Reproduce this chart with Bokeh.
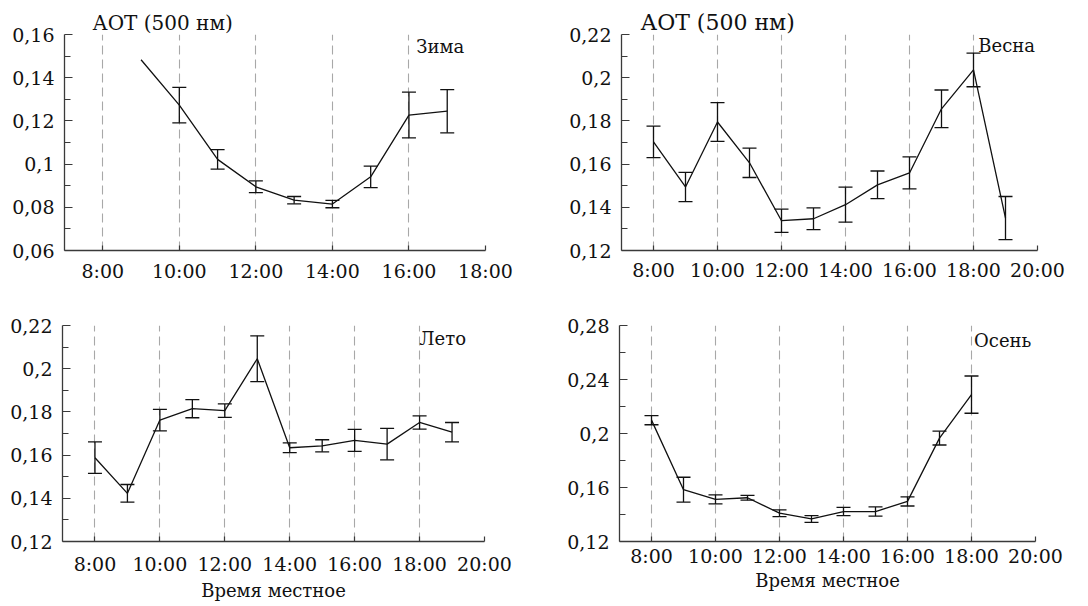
from bokeh.plotting import figure
from bokeh.models import (Range1d, FixedTicker, Whisker, TeeHead, ColumnDataSource,
                          Label, CustomJSTickFormatter)
from bokeh.layouts import row, column
from bokeh.embed import file_html
from bokeh.resources import INLINE

# ---------------- data ----------------
hours_winter = [9, 10, 11, 12, 13, 14, 15, 16, 17]
aot_winter = [0.1483, 0.1273, 0.1022, 0.0895, 0.0833, 0.0815, 0.0941, 0.1227, 0.1245]
err_winter = [None, 0.0082, 0.0045, 0.0027, 0.0017, 0.0017, 0.0050, 0.0106, 0.0100]

hours_spring = [8, 9, 10, 11, 12, 13, 14, 15, 16, 17, 18, 19]
aot_spring = [0.1703, 0.1494, 0.1795, 0.1606, 0.1338, 0.1347, 0.1412, 0.1504, 0.1559, 0.1856, 0.2036, 0.1350]
err_spring = [0.0073, 0.0068, 0.0090, 0.0068, 0.0054, 0.0050, 0.0081, 0.0064, 0.0074, 0.0087, 0.0078, 0.0100]

hours_summer = [8, 9, 10, 11, 12, 13, 14, 15, 16, 17, 18, 19]
aot_summer = [0.1588, 0.1423, 0.1762, 0.1815, 0.1806, 0.2046, 0.1634, 0.1643, 0.1668, 0.1651, 0.1751, 0.1706]
err_summer = [0.0073, 0.0041, 0.0050, 0.0042, 0.0031, 0.0106, 0.0023, 0.0028, 0.0051, 0.0073, 0.0031, 0.0045]

hours_autumn = [8, 9, 10, 11, 12, 13, 14, 15, 16, 17, 18]
aot_autumn = [0.2099, 0.1584, 0.1512, 0.1524, 0.1410, 0.1367, 0.1422, 0.1422, 0.1497, 0.1966, 0.2288]
err_autumn = [0.0034, 0.0092, 0.0034, 0.0018, 0.0025, 0.0025, 0.0031, 0.0034, 0.0034, 0.0051, 0.0138]

x_ticks_winter = [8, 10, 12, 14, 16, 18]
x_ticks_other = [8, 10, 12, 14, 16, 18, 20]
x_labels_all = {8: "8:00", 10: "10:00", 12: "12:00", 14: "14:00", 16: "16:00", 18: "18:00", 20: "20:00"}

y_ticks_winter = [0.06, 0.08, 0.10, 0.12, 0.14, 0.16]
y_labels_winter = ["0,06", "0,08", "0,1", "0,12", "0,14", "0,16"]
y_minor_winter = [0.07, 0.09, 0.11, 0.13, 0.15]

y_ticks_mid = [0.12, 0.14, 0.16, 0.18, 0.20, 0.22]
y_labels_mid = ["0,12", "0,14", "0,16", "0,18", "0,2", "0,22"]
y_minor_mid = [0.13, 0.15, 0.17, 0.19, 0.21]

y_ticks_autumn = [0.12, 0.16, 0.20, 0.24, 0.28]
y_labels_autumn = ["0,12", "0,16", "0,2", "0,24", "0,28"]
y_minor_autumn = [0.14, 0.18, 0.22, 0.26]

ylabel_text = "АОТ (500 нм)"
ylabel_text_spring = "АОТ  (500 нм)"
xlabel_text = "Время местное"

FONT = "DejaVu Serif"
AXIS_COLOR = "#3a3a3a"
TICK_SIZE = "19px"


def fmt(vals, labs):
    return CustomJSTickFormatter(args=dict(vals=vals, labs=labs), code="""
        let best = 0, d = Infinity;
        for (let i = 0; i < vals.length; i++) {
            const e = Math.abs(vals[i] - tick);
            if (e < d) { d = e; best = i; }
        }
        return labs[best];
    """)


def panel(hours, aot, err, xmax, xt, yr, yt, ylabs, ym, fw, fh, borders,
          season, season_pos, title=None, title_offset=0, title_size="20px",
          xlabel=None, x_standoff=9, xlabel_standoff=4):
    bl, br, bt, bb = borders
    p = figure(width=bl + fw + br, height=bt + fh + bb,
               x_range=Range1d(7, xmax), y_range=Range1d(*yr),
               output_backend="svg", toolbar_location=None,
               min_border_left=bl, min_border_right=br,
               min_border_top=bt, min_border_bottom=bb)
    p.outline_line_color = None
    p.background_fill_color = "white"
    p.border_fill_color = "white"

    if title:
        p.title.text = title
        p.title.text_font = FONT
        p.title.text_font_size = title_size
        p.title.text_font_style = "normal"
        p.title.text_color = "#111111"
        p.title.align = "left"
        p.title.offset = title_offset
        p.title.standoff = 0

    xticker = FixedTicker(ticks=xt, minor_ticks=[])
    p.xaxis.ticker = xticker
    p.xaxis.formatter = fmt([float(t) for t in xt], [x_labels_all[t] for t in xt])
    p.xaxis.major_tick_in = 5
    p.xaxis.major_tick_out = 0
    p.xaxis.major_label_standoff = x_standoff

    p.yaxis.ticker = FixedTicker(ticks=yt, minor_ticks=ym)
    p.yaxis.formatter = fmt(yt, ylabs)
    p.yaxis.major_tick_in = 8
    p.yaxis.major_tick_out = 0
    p.yaxis.minor_tick_in = 6
    p.yaxis.minor_tick_out = 0
    p.yaxis.major_label_standoff = 10

    for ax in (p.xaxis, p.yaxis):
        ax.axis_line_color = AXIS_COLOR
        ax.axis_line_width = 1.3
        ax.major_tick_line_color = AXIS_COLOR
        ax.major_tick_line_width = 1.2
        ax.minor_tick_line_color = AXIS_COLOR
        ax.minor_tick_line_width = 1.2
        ax.major_label_text_font = FONT
        ax.major_label_text_font_size = TICK_SIZE
        ax.major_label_text_color = "#111111"
    p.xaxis.minor_tick_line_color = None

    if xlabel:
        p.xaxis.axis_label = xlabel
        p.xaxis.axis_label_text_font = FONT
        p.xaxis.axis_label_text_font_size = "18px"
        p.xaxis.axis_label_text_font_style = "normal"
        p.xaxis.axis_label_text_color = "#111111"
        p.xaxis.axis_label_standoff = xlabel_standoff

    p.xgrid.ticker = xticker
    p.xgrid.grid_line_color = "#a8a8a8"
    p.xgrid.grid_line_dash = "9 5"
    p.xgrid.grid_line_width = 1.1
    p.ygrid.visible = False

    p.line(hours, aot, line_color="#111111", line_width=1.3)

    wh = [h for h, e in zip(hours, err) if e is not None]
    wv = [v for v, e in zip(aot, err) if e is not None]
    we = [e for e in err if e is not None]
    src = ColumnDataSource(dict(x=wh, upper=[v + e for v, e in zip(wv, we)],
                                lower=[v - e for v, e in zip(wv, we)]))
    p.add_layout(Whisker(base="x", upper="upper", lower="lower", source=src,
                         line_color="#111111", line_width=1.3,
                         upper_head=TeeHead(size=14, line_color="#111111", line_width=1.3),
                         lower_head=TeeHead(size=14, line_color="#111111", line_width=1.3)))

    p.add_layout(Label(x=season_pos[0], y=season_pos[1], text=season,
                       text_font=FONT, text_font_size="18px", text_color="#111111",
                       text_baseline="alphabetic", text_align="left"))
    return p


p1 = panel(hours_winter, aot_winter, err_winter, 18, x_ticks_winter, (0.06, 0.16),
           y_ticks_winter, y_labels_winter, y_minor_winter, 421, 217, (64, 80, 33, 48),
           "Зима", (16.19, 0.1545), title=ylabel_text, title_offset=28,
           title_size="20px", x_standoff=9)
p2 = panel(hours_spring, aot_spring, err_spring, 20, x_ticks_other, (0.12, 0.22),
           y_ticks_mid, y_labels_mid, y_minor_mid, 416, 217, (56, 30, 34, 47),
           "Весна", (18.15, 0.2149), title=ylabel_text_spring, title_offset=19,
           title_size="22px", x_standoff=8)
p3 = panel(hours_summer, aot_summer, err_summer, 20, x_ticks_other, (0.12, 0.22),
           y_ticks_mid, y_labels_mid, y_minor_mid, 422, 217, (62, 79, 26, 64),
           "Лето", (18.0, 0.2140), xlabel=xlabel_text, x_standoff=11, xlabel_standoff=2)
p4 = panel(hours_autumn, aot_autumn, err_autumn, 20, x_ticks_other, (0.12, 0.28),
           y_ticks_autumn, y_labels_autumn, y_minor_autumn, 416, 221, (56, 30, 27, 59),
           "Осень", (18.08, 0.2689), xlabel=xlabel_text, x_standoff=3, xlabel_standoff=0)

layout = column(row(p1, p2), row(p3, p4))
open("out.html", "w").write(file_html(layout, INLINE))
